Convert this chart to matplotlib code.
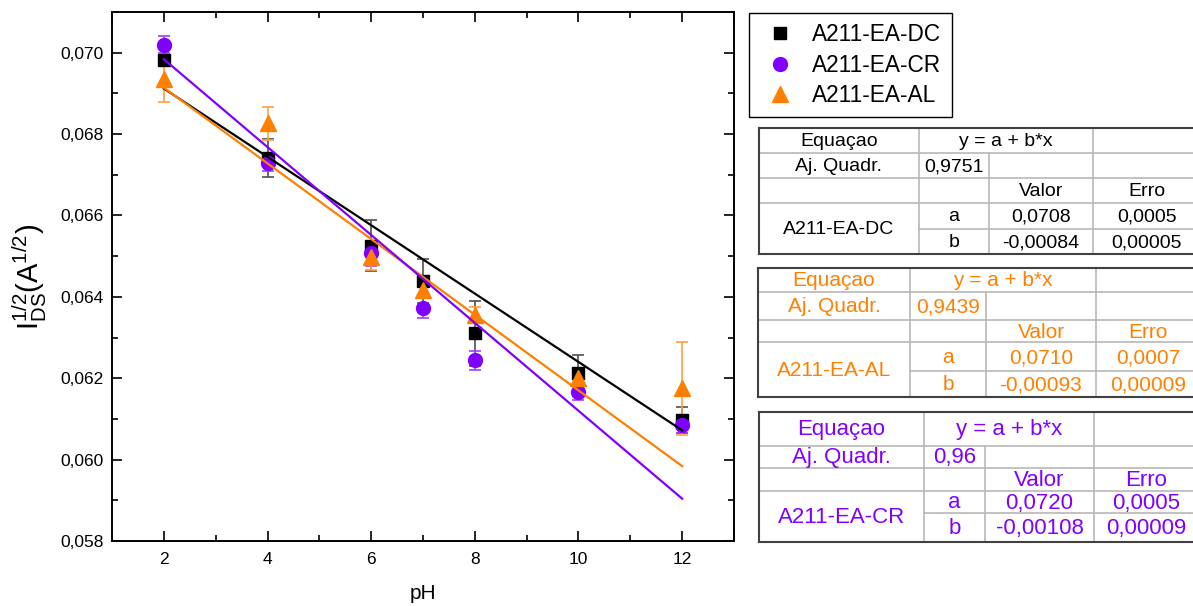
import matplotlib
matplotlib.use('Agg')
import matplotlib.pyplot as plt
from matplotlib.lines import Line2D
from matplotlib.ticker import MultipleLocator, FuncFormatter
import numpy as np

plt.rcParams['font.family'] = ['Liberation Sans', 'DejaVu Sans']
plt.rcParams['mathtext.fontset'] = 'custom'
plt.rcParams['mathtext.rm'] = 'Liberation Sans'

# data
ph = [2, 4, 6, 7, 8, 10, 12]

dc_y = [0.06983, 0.06742, 0.06526, 0.06440, 0.06310, 0.06212, 0.06097]
dc_err = [0.00012, 0.00047, 0.00062, 0.00054, 0.00079, 0.00044, 0.00032]

cr_y = [0.07020, 0.06730, 0.06507, 0.06372, 0.06244, 0.06166, 0.06085]
cr_err = [0.00020, 0.00020, 0.00030, 0.00025, 0.00023, 0.00020, 0.00020]

al_y = [0.06936, 0.06826, 0.06497, 0.06416, 0.06355, 0.06200, 0.06175]
al_err = [0.00056, 0.00040, 0.00032, 0.00020, 0.00020, 0.00020, 0.00115]

# linear fit parameters (from the tables)
fit_a = {'DC': 0.0708, 'AL': 0.0710, 'CR': 0.0720}
fit_b = {'DC': -0.00084, 'AL': -0.00093, 'CR': -0.00108}

black = '#000000'
purple = '#8000ff'
orange = '#ff8000'

W, H = 1193, 606
fig = plt.figure(figsize=(W / 100, H / 100), dpi=100)
ax = fig.add_axes([112 / W, 1 - 541 / H, (734 - 112) / W, (541 - 12) / H])

ax.errorbar(ph, dc_y, yerr=dc_err, fmt='s', color=black, ms=9, ecolor='#505050',
            elinewidth=1.2, capsize=4, capthick=1.2, zorder=3)
ax.errorbar(ph, cr_y, yerr=cr_err, fmt='o', color=purple, ms=10, ecolor='#a040ff',
            elinewidth=1.2, capsize=4, capthick=1.2, zorder=3)
ax.errorbar(ph, al_y, yerr=al_err, fmt='^', color=orange, ms=11, ecolor='#ffa040',
            elinewidth=1.2, capsize=4, capthick=1.2, zorder=3)

x_fit = np.array([ph[0], ph[-1]])
ax.plot(x_fit, fit_a['DC'] + fit_b['DC'] * x_fit, color=black, lw=1.6, zorder=4)
ax.plot(x_fit, fit_a['AL'] + fit_b['AL'] * x_fit, color=orange, lw=1.6, zorder=4)
ax.plot(x_fit, fit_a['CR'] + fit_b['CR'] * x_fit, color=purple, lw=1.6, zorder=4)

ax.set_xlim(1, 13)
ax.set_ylim(0.058, 0.071)
ax.xaxis.set_major_locator(MultipleLocator(2))
ax.xaxis.set_minor_locator(MultipleLocator(1))
ax.yaxis.set_major_locator(MultipleLocator(0.002))
ax.yaxis.set_minor_locator(MultipleLocator(0.001))
ax.yaxis.set_major_formatter(FuncFormatter(lambda v, p: f'{v:.3f}'.replace('.', ',')))
ax.tick_params(which='both', direction='in', top=True, right=True, labelsize=12.5, width=1.2)
ax.tick_params(which='major', length=7)
ax.tick_params(which='minor', length=4)
ax.tick_params(axis='x', pad=8)
ax.tick_params(axis='y', pad=6)
for s in ax.spines.values():
    s.set_linewidth(1.4)

ax.set_xlabel('pH', fontsize=15, labelpad=12)
ax.set_ylabel(r'$\mathregular{I_{DS}^{1/2}(A^{1/2})}$', fontsize=21, labelpad=8)

handles = [
    Line2D([], [], ls='', marker='s', ms=9, color=black),
    Line2D([], [], ls='', marker='o', ms=10, color=purple),
    Line2D([], [], ls='', marker='^', ms=11, color=orange),
]
labels = ['A211-EA-DC', 'A211-EA-CR', 'A211-EA-AL']
leg = ax.legend(handles, labels, loc='upper left', bbox_to_anchor=(749 / W, 1 - 13 / H),
                bbox_transform=fig.transFigure, borderaxespad=0, fontsize=16.3,
                frameon=True, fancybox=False, edgecolor='black', framealpha=1,
                handlelength=1.8, handletextpad=0.55, labelspacing=0.33, borderpad=0.45)
leg.get_frame().set_linewidth(1.0)


def fx(x):
    return x / W


def fy(y):
    return 1 - y / H


def hline(y, x0, x1, color, lw):
    fig.add_artist(Line2D([fx(x0), fx(x1)], [fy(y), fy(y)], color=color, lw=lw,
                          transform=fig.transFigure))


def vline(x, y0, y1, color, lw):
    fig.add_artist(Line2D([fx(x), fx(x)], [fy(y0), fy(y1)], color=color, lw=lw,
                          transform=fig.transFigure))


def draw_table(cols, rows, texts, color, size):
    grid = '#b8b8b8'
    edge = '#404040'
    # inner horizontal lines
    for r in rows[1:4]:
        hline(r, cols[0], cols[4], grid, 1.2)
    hline(rows[4], cols[1], cols[4], grid, 1.2)
    # inner vertical lines
    vline(cols[1], rows[0], rows[5], grid, 1.2)
    vline(cols[2], rows[1], rows[5], grid, 1.2)
    vline(cols[3], rows[0], rows[5], grid, 1.2)
    # outer border
    hline(rows[0], cols[0], cols[4], edge, 1.5)
    hline(rows[5], cols[0], cols[4], edge, 1.5)
    vline(cols[0], rows[0], rows[5], edge, 1.5)
    for (r0, r1, c0, c1, t) in texts:
        xc = (cols[c0] + cols[c1]) / 2
        yc = (rows[r0] + rows[r1]) / 2 + 1
        fig.text(fx(xc), fy(yc), t, color=color, fontsize=size, ha='center', va='center')


def table_texts(name, r2, a, a_err, b, b_err):
    return [
        (0, 1, 0, 1, 'Equaçao'),
        (0, 1, 1, 3, 'y = a + b*x'),
        (1, 2, 0, 1, 'Aj. Quadr.'),
        (1, 2, 1, 2, r2),
        (2, 3, 2, 3, 'Valor'),
        (2, 3, 3, 4, 'Erro'),
        (3, 5, 0, 1, name),
        (3, 4, 1, 2, 'a'),
        (4, 5, 1, 2, 'b'),
        (3, 4, 2, 3, a),
        (3, 4, 3, 4, a_err),
        (4, 5, 2, 3, b),
        (4, 5, 3, 4, b_err),
    ]


draw_table([759, 919, 989, 1093, 1201], [128, 153, 178, 203, 229, 254],
           table_texts('A211-EA-DC', '0,9751', '0,0708', '0,0005', '-0,00084', '0,00005'),
           black, 14)
draw_table([758, 910, 986, 1096, 1200], [268, 292, 320, 342, 371, 397],
           table_texts('A211-EA-AL', '0,9439', '0,0710', '0,0007', '-0,00093', '0,00009'),
           orange, 15)
draw_table([759, 924, 985, 1094, 1198], [412, 446, 468, 491, 513, 542],
           table_texts('A211-EA-CR', '0,96', '0,0720', '0,0005', '-0,00108', '0,00009'),
           purple, 16)

fig.savefig('out.png', dpi=100)
